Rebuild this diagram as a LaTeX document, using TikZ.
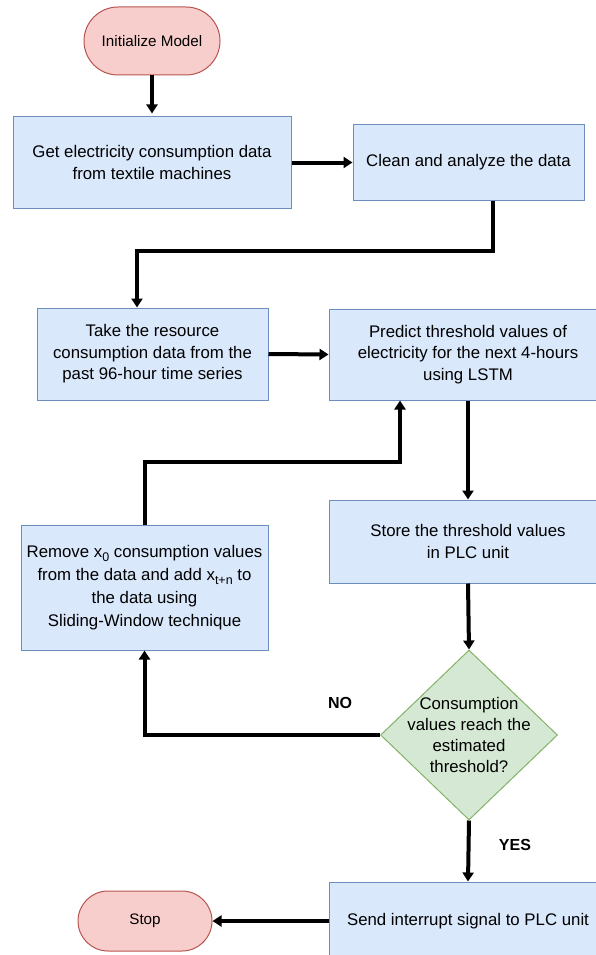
\documentclass[tikz,border=0pt]{standalone}
\usepackage{fontspec}
\setmainfont{Liberation Sans}
\usetikzlibrary{shapes.geometric,arrows.meta}
\definecolor{boxfill}{HTML}{DAE8FC}
\definecolor{boxline}{HTML}{6C8EBF}
\definecolor{termfill}{HTML}{F8CECC}
\definecolor{termline}{HTML}{B85450}
\definecolor{decfill}{HTML}{D5E8D4}
\definecolor{decline}{HTML}{82B366}
% lowered index for the sliding-window text
\newcommand{\lowidx}[1]{\raisebox{-0.45ex}{\fontsize{12.5}{12.5}\selectfont #1}}
\tikzset{
  stepbox/.style={draw=boxline, fill=boxfill, line width=1pt, align=center,
    inner sep=0pt, font=\fontsize{16.8}{21.5}\selectfont},
  term/.style={draw=termline, fill=termfill, line width=1pt, align=center,
    inner sep=0pt, font=\fontsize{15.2}{19}\selectfont},
  decision/.style={diamond, draw=decline, fill=decfill, line width=1pt,
    inner sep=0pt, minimum width=177pt, minimum height=170pt},
  flow/.style={line width=4pt, -{Triangle[length=9pt,width=11pt]}},
  tag/.style={font=\fontsize{16}{19}\selectfont\bfseries}
}
\begin{document}
\begin{tikzpicture}[x=1pt, y=-1pt]
\useasboundingbox (0,0) rectangle (595,955);

% terminals
\node[term, rounded corners=34pt, minimum width=136pt, minimum height=68pt]
  (init) at (152,41) {Initialize Model};
\node[term, rounded corners=30pt, minimum width=134pt, minimum height=60pt]
  (stop) at (145,921) {Stop};

% process steps
\node[stepbox, minimum width=278pt, minimum height=91pt] (get) at (152,162.5)
  {Get electricity consumption data\\from textile machines};
\node[stepbox, minimum width=231pt, minimum height=75pt] (clean) at (468.5,162.5)
  {Clean and analyze the data};
\node[stepbox, minimum width=231pt, minimum height=92pt] (take) at (152.5,354)
  {Take the resource\\consumption data from the\\past 96-hour time series};
\node[stepbox, minimum width=278pt, minimum height=91pt] (pred) at (468,354.5)
  {Predict threshold values of\\electricity for the next 4-hours\\using LSTM};
\node[stepbox, minimum width=278pt, minimum height=83pt] (store) at (468,541.5)
  {Store the threshold values\\in PLC unit};
\node[stepbox, minimum width=247pt, minimum height=125pt,
  font=\fontsize{16.8}{23}\selectfont] (slide) at (144.5,587.5)
  {Remove x\lowidx{0} consumption values\\from the data and add x\lowidx{t+n} to\\the data using\\Sliding-Window technique};
\node[stepbox, minimum width=278pt, minimum height=78pt] (send) at (468,921)
  {Send interrupt signal to PLC unit};

% decision
\node[decision] (dec) at (469,735) {};
\node[align=center, inner sep=0pt, font=\fontsize{16.8}{21.3}\selectfont]
  (dectext) at (dec.center) {Consumption\\values reach the\\estimated\\threshold?};

% branch labels
\node[tag] (no) at (340,703) {NO};
\node[tag] (yes) at (515,845) {YES};

% connectors
\draw[flow, shorten >=3pt] (init.south) -- (get.north);
\draw[flow] (get.east) -- (clean.west);
\draw[flow] ([xshift=24pt]clean.south) -- ++(0,50) -| ([xshift=-15.5pt]take.north);
\draw[flow] (take.east) -- (pred.west);
\draw[flow] (pred.south) -- (store.north);
\draw[flow] (store.south) -- (dec.north);
\draw[flow] (dec.west) -| (slide.south);
\draw[flow] (slide.north) -- ++(0,-63) -| ([xshift=-68pt]pred.south);
\draw[flow] (dec.south) -- (send.north);
\draw[flow] (send.west) -- (stop.east);
\end{tikzpicture}
\end{document}
